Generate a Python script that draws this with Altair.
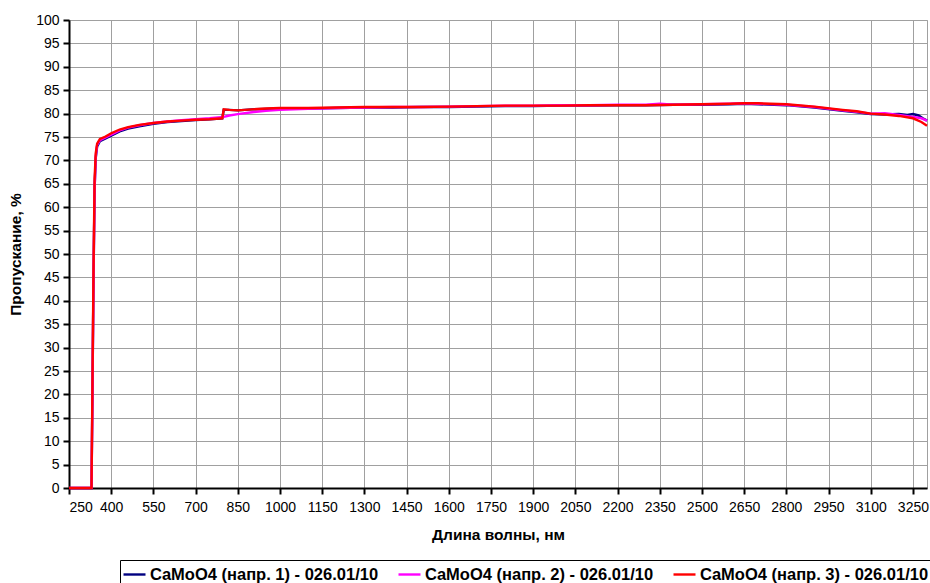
import altair as alt
import pandas as pd

# Transmission spectra of a CaMoO4 crystal measured in three directions
wl_1 = [250, 325, 330, 333, 337, 341, 345, 350, 360, 380, 400, 430, 460, 500, 550, 600, 650,
        700, 750, 795, 800, 820, 850, 900, 950, 1000, 1100, 1200, 1300, 1400, 1500, 1600,
        1700, 1800, 1900, 2000, 2100, 2200, 2300, 2400, 2500, 2600, 2650, 2700, 2800, 2900,
        3000, 3050, 3100, 3150, 3200, 3230, 3250, 3270, 3285, 3300]
t_1 = [0, 0, 0, 18, 44, 64, 70.5, 73.0, 74.1, 74.7, 75.3, 76.2, 76.8, 77.3, 77.8, 78.2, 78.4,
       78.6, 78.8, 79.0, 80.8, 80.8, 80.7, 80.9, 81.0, 81.1, 81.1, 81.2, 81.3, 81.3, 81.4, 81.4,
       81.5, 81.6, 81.6, 81.7, 81.7, 81.8, 81.8, 81.9, 81.9, 82.0, 82.1, 82.0, 81.8, 81.3,
       80.6, 80.3, 79.9, 79.8, 79.9, 79.7, 79.9, 79.6, 79.0, 78.5]

wl_2 = [250, 325, 330, 333, 337, 341, 345, 350, 360, 380, 400, 430, 460, 500, 550, 600, 650,
        700, 750, 800, 820, 850, 900, 950, 1000, 1100, 1200, 1300, 1400, 1500, 1600,
        1700, 1800, 1900, 2000, 2100, 2200, 2300, 2350, 2400, 2500, 2600, 2650, 2700, 2800,
        2900, 3000, 3050, 3100, 3150, 3200, 3250, 3280, 3300]
t_2 = [0, 0, 0, 18, 44, 64, 70.8, 73.3, 74.3, 74.9, 75.5, 76.4, 77.0, 77.5, 78.0, 78.3, 78.6,
       78.8, 79.0, 79.3, 79.6, 79.9, 80.3, 80.6, 80.8, 81.0, 81.2, 81.3, 81.4, 81.4, 81.5,
       81.6, 81.7, 81.7, 81.8, 81.8, 81.9, 81.9, 82.1, 81.9, 82.0, 82.1, 82.2, 82.1, 81.9,
       81.4, 80.7, 80.4, 80.0, 80.1, 79.7, 79.3, 79.0, 78.5]

wl_3 = [250, 325, 330, 333, 337, 341, 345, 350, 360, 380, 400, 430, 460, 500, 550, 600, 650,
        700, 750, 795, 800, 820, 850, 900, 950, 1000, 1100, 1200, 1300, 1400, 1500, 1600,
        1700, 1800, 1900, 2000, 2100, 2200, 2300, 2400, 2500, 2600, 2650, 2700, 2800, 2900,
        3000, 3050, 3100, 3150, 3200, 3250, 3280, 3300]
t_3 = [0, 0, 0, 20, 46, 66, 71.5, 73.6, 74.6, 75.1, 75.8, 76.6, 77.1, 77.6, 78.0, 78.3, 78.5,
       78.7, 78.8, 79.0, 80.9, 80.8, 80.7, 80.9, 81.1, 81.2, 81.2, 81.3, 81.4, 81.4, 81.4, 81.5,
       81.6, 81.7, 81.7, 81.7, 81.8, 81.8, 81.8, 81.9, 82.0, 82.1, 82.2, 82.2, 82.0, 81.5,
       80.8, 80.5, 80.0, 79.8, 79.5, 79.0, 78.2, 77.4]

series_names = [
    "CaMoO4 (напр. 1) - 026.01/10",
    "CaMoO4 (напр. 2) - 026.01/10",
    "CaMoO4 (напр. 3) - 026.01/10",
]
series_colors = ["#000080", "#FF00FF", "#FF0000"]
x_ticks = list(range(250, 3251, 150))
y_ticks = list(range(0, 101, 5))

frames = []
for i, (wl, t) in enumerate([(wl_1, t_1), (wl_2, t_2), (wl_3, t_3)]):
    frames.append(pd.DataFrame({"wl": wl, "t": t, "series": series_names[i], "order": i}))
df = pd.concat(frames, ignore_index=True)

FONT = "Liberation Sans"

chart = alt.Chart(df).mark_line(interpolate="linear").encode(
    x=alt.X("wl:Q",
            scale=alt.Scale(domain=[250, 3300], nice=False, zero=False),
            axis=alt.Axis(values=x_ticks, format="d", title="Длина волны, нм",
                          labelPadding=6, titleY=39, titleBaseline="top")),
    y=alt.Y("t:Q",
            scale=alt.Scale(domain=[0, 100], nice=False),
            axis=alt.Axis(values=y_ticks, format="d", title="Пропускание, %",
                          labelPadding=4, titleX=-46, titleY=234)),
    color=alt.Color("series:N",
                    scale=alt.Scale(domain=series_names, range=series_colors),
                    legend=alt.Legend(title=None, orient="none", legendX=51, legendY=540,
                                      direction="horizontal", columns=3,
                                      symbolType="stroke", symbolSize=484,
                                      symbolStrokeWidth=3, columnPadding=14,
                                      labelOffset=3, labelLimit=400, padding=2,
                                      strokeColor="#000000", fillColor="#ffffff")),
    strokeWidth=alt.StrokeWidth("series:N",
                                scale=alt.Scale(domain=series_names, range=[2.4, 2.4, 3.0]),
                                legend=None),
    order=alt.Order("order:Q"),
    detail="series:N",
).properties(
    width=858,
    height=468,
    autosize="none",
    padding={"left": 69, "top": 20, "right": 3, "bottom": 95},
).configure_view(
    stroke="#a0a0a0", strokeWidth=1
).configure_axis(
    labelFont=FONT, labelFontSize=14, labelColor="#000000",
    titleFont=FONT, titleFontSize=15.5, titleFontWeight="bold", titleColor="#000000",
    domainColor="#000000", domainWidth=2,
    tickColor="#000000", tickWidth=2, tickSize=6,
    gridColor="#a0a0a0", gridWidth=1,
).configure_legend(
    labelFont=FONT, labelFontSize=16.5, labelFontWeight="bold", labelColor="#000000",
    strokeWidth=1,
)

chart.save("out.html", embed_options={"renderer": "svg", "actions": False})
